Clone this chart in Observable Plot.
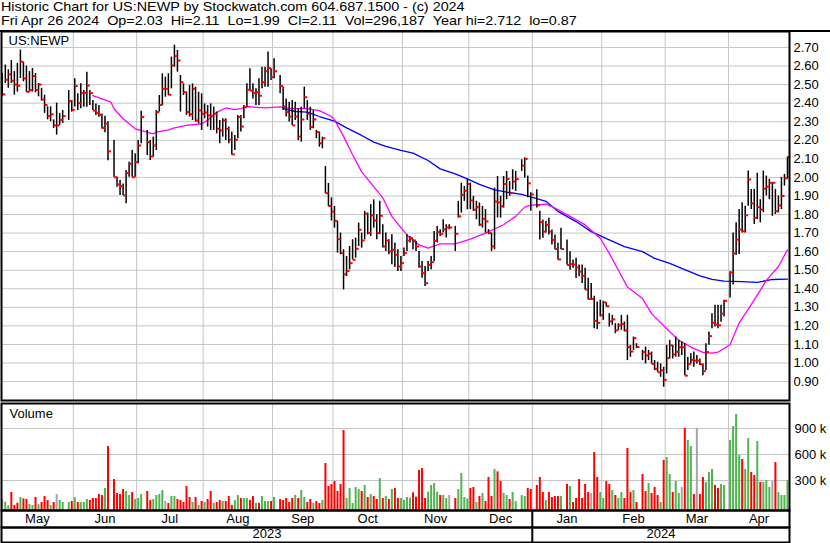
<!DOCTYPE html>
<html>
<head>
<meta charset="utf-8">
<script src="https://cdn.jsdelivr.net/npm/d3@7"></script>
<script src="https://cdn.jsdelivr.net/npm/@observablehq/plot@0.6"></script>
<style>
  html, body { margin: 0; padding: 0; background: #fff; }
  #chart { position: relative; width: 830px; height: 543px; overflow: hidden; background: #fff;
           font-family: "Liberation Sans", Arial, Helvetica, sans-serif; color: #000; }
  .hdr { position: absolute; left: 1px; font-size: 13px; line-height: 13px; white-space: pre;
         transform: scaleX(1.105); transform-origin: 0 0; }
  .rule { position: absolute; left: 0; width: 830px; height: 2px; background: #000; }
  .panel { position: absolute; left: 0; }
  .panel svg { display: block; background: transparent; }
</style>
</head>
<body>
<div id="chart">
  <div class="hdr" id="title" style="top:-0.5px"></div>
  <div class="hdr" id="subtitle" style="top:14px"></div>
  <div class="rule" style="top:30px"></div>
  <div class="panel" id="pricePanel" style="top:30px"></div>
  <div class="panel" id="volPanel" style="top:401px"></div>
  <div class="panel" id="monthPanel" style="top:509px"></div>
  <div class="panel" id="yearPanel" style="top:526px"></div>
</div>
<script>
// ---------------- texts ----------------
const title = "Historic Chart for US:NEWP by Stockwatch.com 604.687.1500 - (c) 2024";
const subtitle = "Fri Apr 26 2024  Op=2.03  Hi=2.11  Lo=1.99  Cl=2.11  Vol=296,187  Year hi=2.712  lo=0.87";
const symbol = "US:NEWP";
const volumeLabel = "Volume";
const monthNames = ["May","Jun","Jul","Aug","Sep","Oct","Nov","Dec","Jan","Feb","Mar","Apr"];
const monthFirsts = ["2023-06-01","2023-07-01","2023-08-01","2023-09-01","2023-10-01","2023-11-01",
                     "2023-12-01","2024-01-01","2024-02-01","2024-03-01","2024-04-01"];
const yearNames = ["2023","2024"];
const yearStart = "2024-01-01";

// ---------------- ticks ----------------
const priceTicks = [0.90,1.00,1.10,1.20,1.30,1.40,1.50,1.60,1.70,1.80,1.90,2.00,2.10,2.20,2.30,2.40,2.50,2.60,2.70];
const volumeTicks = [300000, 600000, 900000];

// ---------------- calendar ----------------
const firstDate = "2023-04-28", lastDate = "2024-04-26";
const holidays = ["2023-05-29","2023-06-19","2023-07-04","2023-09-04","2023-11-23","2023-12-25",
                  "2024-01-01","2024-01-15","2024-02-19","2024-03-29"];

// ---------------- daily bars (one entry per trading day) ----------------
const high = [
  2.56,
  2.605,2.58,2.63,2.57,2.614,2.686,2.62,2.60,2.57,2.587,2.56,2.506,2.48,2.443,2.38,2.38,2.31,2.40,2.345,2.36,2.468,2.414,
  2.531,2.45,2.504,2.468,2.567,2.468,2.414,2.396,2.387,2.342,2.33,2.30,2.199,2.001,1.983,1.965,2.037,2.082,2.145,2.127,2.199,
  2.357,2.253,2.199,2.217,2.36,2.441,2.558,2.54,2.558,2.648,2.712,2.684,2.549,2.504,2.459,2.495,2.504,2.486,2.459,2.45,
  2.396,2.387,2.396,2.379,2.352,2.307,2.316,2.316,2.271,2.244,2.226,2.334,2.334,2.387,2.504,2.585,2.504,2.477,2.531,2.594,2.594,2.675,2.585,
  2.639,2.549,2.486,2.423,2.405,2.414,2.405,2.37,2.378,2.486,2.414,2.378,2.36,2.253,2.244,2.217,2.059,1.967,1.89,1.843,
  1.763,1.70,1.61,1.574,1.628,1.664,1.673,1.754,1.70,1.817,1.808,1.853,1.879,1.799,1.871,1.745,1.70,1.664,1.691,1.646,1.61,1.574,
  1.619,1.691,1.682,1.664,1.655,1.601,1.547,1.52,1.547,1.574,1.709,1.736,1.718,1.772,1.745,1.745,1.736,1.871,1.969,1.951,1.987,
  1.969,1.898,1.871,1.862,1.844,1.826,1.718,1.70,1.942,2.005,1.898,2.005,2.032,1.978,2.041,2.032,2.095,2.105,2.007,1.917,
  1.934,1.817,1.77,1.762,1.78,1.717,1.69,1.645,1.726,1.663,1.60,1.555,1.564,1.528,1.528,1.51,1.456,1.429,1.36,1.329,1.338,
  1.333,1.324,1.266,1.257,1.212,1.212,1.257,1.221,1.257,1.095,1.14,1.104,1.068,1.086,1.068,1.059,1.013,1.004,0.995,0.977,
  1.095,1.122,1.095,1.14,1.122,1.113,1.104,1.031,1.05,1.059,1.04,1.022,0.995,1.104,1.167,1.266,1.311,1.311,1.311,1.338,
  1.491,1.70,1.755,1.827,1.863,1.845,2.034,1.935,1.935,2.022,1.88,2.034,2.007,1.99,1.971,1.935,1.90,2.00,2.016,2.11
];
const low = [
  2.434,
  2.506,2.48,2.506,2.443,2.46,2.533,2.515,2.458,2.46,2.46,2.456,2.434,2.41,2.345,2.31,2.30,2.264,2.228,2.28,2.29,2.307,2.352,
  2.379,2.36,2.37,2.378,2.378,2.387,2.36,2.333,2.324,2.261,2.24,2.09,2.001,1.947,1.903,1.903,1.858,2.001,2.001,2.001,2.073,
  2.181,2.118,2.091,2.109,2.145,2.352,2.387,2.432,2.441,2.477,2.594,2.567,2.352,2.441,2.334,2.325,2.307,2.298,2.289,2.253,
  2.316,2.271,2.253,2.253,2.235,2.181,2.217,2.199,2.181,2.12,2.145,2.208,2.244,2.316,2.378,2.468,2.423,2.387,2.387,2.477,2.486,2.486,2.522,
  2.531,2.45,2.361,2.325,2.298,2.28,2.307,2.199,2.19,2.37,2.307,2.253,2.262,2.208,2.163,2.154,1.912,1.842,1.765,1.727,
  1.592,1.583,1.394,1.466,1.502,1.556,1.565,1.628,1.619,1.664,1.691,1.682,1.727,1.664,1.691,1.619,1.601,1.583,1.529,1.515,1.493,1.493,
  1.574,1.601,1.646,1.61,1.601,1.511,1.457,1.412,1.493,1.502,1.547,1.646,1.682,1.70,1.673,1.718,1.601,1.781,1.808,1.871,1.826,
  1.826,1.817,1.772,1.736,1.727,1.70,1.691,1.601,1.61,1.781,1.781,1.835,1.88,1.898,1.933,1.924,2.032,1.996,1.89,1.818,
  1.835,1.663,1.672,1.70,1.69,1.636,1.61,1.555,1.61,1.528,1.50,1.51,1.455,1.465,1.429,1.392,1.34,1.338,1.185,1.18,1.248,
  1.23,1.302,1.194,1.203,1.158,1.176,1.176,1.167,1.013,1.031,1.068,1.077,1.013,0.995,1.013,0.995,0.959,0.95,0.923,0.87,
  0.941,1.022,1.022,1.031,1.031,1.04,0.932,0.959,0.995,0.977,0.995,0.986,0.932,0.959,1.095,1.185,1.194,1.185,1.22,1.248,
  1.35,1.42,1.58,1.584,1.70,1.70,1.845,1.827,1.746,1.773,1.755,1.81,1.90,1.88,1.79,1.80,1.809,1.827,1.953,1.99
];
const close = [
  2.447,
  2.526,2.555,2.52,2.50,2.494,2.623,2.533,2.461,2.47,2.546,2.47,2.50,2.42,2.39,2.33,2.34,2.28,2.28,2.31,2.33,2.411,2.364,
  2.492,2.40,2.454,2.456,2.495,2.454,2.36,2.348,2.337,2.267,2.29,2.14,2.001,1.962,1.953,1.903,2.023,2.073,2.001,2.082,2.172,
  2.325,2.19,2.113,2.172,2.352,2.39,2.477,2.477,2.445,2.603,2.653,2.63,2.513,2.459,2.352,2.34,2.477,2.307,2.361,2.343,
  2.35,2.334,2.33,2.343,2.262,2.253,2.307,2.262,2.203,2.124,2.203,2.325,2.274,2.378,2.472,2.468,2.454,2.459,2.44,2.513,2.572,2.589,2.54,
  2.572,2.492,2.382,2.352,2.328,2.28,2.328,2.22,2.312,2.432,2.343,2.271,2.312,2.244,2.184,2.211,1.915,1.846,1.815,1.766,
  1.667,1.592,1.478,1.496,1.538,1.556,1.615,1.718,1.66,1.804,1.70,1.795,1.768,1.70,1.793,1.628,1.66,1.601,1.61,1.583,1.52,1.538,
  1.592,1.66,1.673,1.66,1.628,1.52,1.484,1.43,1.529,1.543,1.658,1.705,1.696,1.72,1.73,1.73,1.696,1.79,1.906,1.928,1.964,
  1.876,1.826,1.839,1.745,1.777,1.763,1.70,1.628,1.87,1.865,1.844,1.964,1.991,1.915,1.978,1.991,2.063,2.10,1.968,1.908,
  1.85,1.759,1.708,1.744,1.708,1.663,1.614,1.558,1.614,1.528,1.533,1.531,1.515,1.492,1.47,1.396,1.345,1.345,1.227,1.216,1.257,
  1.327,1.306,1.224,1.235,1.176,1.203,1.21,1.176,1.086,1.062,1.134,1.086,1.059,1.041,1.05,0.995,0.968,0.95,0.96,0.909,
  1.026,1.095,1.046,1.06,1.085,1.085,0.932,0.995,1.017,1.013,1.013,0.993,0.956,1.059,1.145,1.216,1.208,1.203,1.266,1.335,
  1.488,1.59,1.665,1.719,1.71,1.796,1.989,1.86,1.782,1.84,1.827,1.939,1.95,1.971,1.971,1.818,1.849,1.90,1.995,2.11
];
// volume in thousands of shares
const volumeK = [
  81,
  50,8,162,12,38,104,88,81,23,12,104,19,46,115,69,12,46,138,69,46,46,58,
  104,46,46,46,81,69,92,92,138,127,207,692,311,150,138,196,173,127,161,81,92,
  138,173,69,81,127,138,185,58,35,115,115,81,69,46,231,104,46,104,12,58,
  46,81,173,35,46,69,58,58,115,12,69,127,92,92,92,69,115,35,35,115,58,58,58,
  104,81,69,92,46,92,127,92,185,104,46,81,35,58,35,69,496,231,254,288,
  173,254,877,92,208,35,219,196,173,242,104,138,115,81,323,92,115,81,196,208,92,92,
  69,104,96,158,108,415,438,92,165,242,265,165,127,127,92,127,92,196,381,104,88,
  208,219,46,115,150,58,335,115,427,400,288,150,127,81,162,58,127,115,208,196,
  242,335,161,69,161,104,115,115,115,254,231,46,92,311,92,254,161,150,623,335,161,
  92,288,254,185,127,92,161,92,669,161,185,46,369,173,265,150,219,127,46,531,
  565,369,161,288,150,219,900,762,692,138,900,138,335,277,392,427,242,208,254,242,
  762,923,1062,588,542,427,785,392,358,750,277,277,300,219,288,508,161,127,127,296
];

// ---------------- moving averages (weekday index from 2023-04-28) ----------------
const maFastDay   = [30,33,36,37,40,44,48,50,51,55,57,61,66,68,70,72,74,77,79,81,83,87,92,96,101,105,109,110,113,116,119,123,126,129,133,135,138,141,145,150,155,160,166,170,173,175,180,183,188,193,198,201,204,207,212,215,220,224,228,232,235,237,239,241,244,249,253,257,260];
const maFastValue = [2.441,2.423,2.405,2.37,2.316,2.262,2.244,2.235,2.244,2.256,2.267,2.28,2.289,2.307,2.34,2.358,2.374,2.365,2.37,2.382,2.379,2.375,2.38,2.37,2.37,2.36,2.328,2.311,2.221,2.122,2.03,1.95,1.89,1.79,1.709,1.673,1.637,1.619,1.642,1.642,1.667,1.70,1.745,1.79,1.84,1.85,1.856,1.835,1.79,1.744,1.672,1.591,1.50,1.41,1.347,1.266,1.185,1.122,1.086,1.057,1.053,1.059,1.078,1.10,1.215,1.34,1.445,1.52,1.61];
const maSlowDay   = [93,97,101,105,110,114,119,123,127,132,136,141,145,150,154,158,163,167,172,177,180,184,190,195,201,206,212,216,221,225,231,235,239,245,250,255,260];
const maSlowValue = [2.37,2.355,2.352,2.328,2.303,2.267,2.226,2.19,2.167,2.145,2.131,2.091,2.046,2.019,1.992,1.962,1.933,1.921,1.908,1.885,1.871,1.817,1.762,1.708,1.663,1.627,1.60,1.564,1.537,1.51,1.469,1.45,1.441,1.438,1.434,1.45,1.452];

// ---------------- build tables ----------------
const weekdays = [];
for (let t = Date.parse(firstDate + "T00:00:00Z"); t <= Date.parse(lastDate + "T00:00:00Z"); t += 86400000) {
  const d = new Date(t), wd = d.getUTCDay();
  if (wd !== 0 && wd !== 6) weekdays.push(d.toISOString().slice(0, 10));
}
const slotOf = new Map(weekdays.map((d, i) => [d, i]));
const tradingDays = weekdays.filter(d => !holidays.includes(d));
const bars = tradingDays.map((date, k) => ({
  date, slot: slotOf.get(date),
  high: high[k], low: low[k], close: close[k], vol: volumeK[k] * 1000,
  dir: k === 0 ? 0 : Math.sign(close[k] - close[k - 1])
})).filter(d => d.high !== undefined);
const maFast = maFastDay.map((day, i) => ({day, value: maFastValue[i]}));
const maSlow = maSlowDay.map((day, i) => ({day, value: maSlowValue[i]}));

const xDomain = [-0.26, weekdays.length - 1 + 0.67];
const lastSlotOnOrBefore = f => { let i = -1; weekdays.forEach((d, k) => { if (d <= f) i = k; }); return i; };
const monthBounds = monthFirsts.map(f => lastSlotOnOrBefore(f) - 0.5);
const edges = [xDomain[0], ...monthBounds, xDomain[1]];
const monthLabels = monthNames.map((name, i) => ({name, mid: (edges[i] + edges[i + 1]) / 2}));
const yearBound = lastSlotOnOrBefore(yearStart) - 0.5;
const yearEdges = [xDomain[0], yearBound, xDomain[1]];
const yearLabels = yearNames.map((name, i) => ({name, mid: (yearEdges[i] + yearEdges[i + 1]) / 2}));

const FONT = '"Liberation Sans", Arial, Helvetica, sans-serif';
const GRID = "#c4c4c4";
const dirColor = {"1": "#50b450", "-1": "#ff0000", "0": "#a6a6a6"};
const baseStyle = {fontFamily: FONT, fontSize: "13px", color: "#000", background: "transparent", overflow: "visible"};
const W = 830, ML = 1, MR = 41;

document.getElementById("title").textContent = title;
document.getElementById("subtitle").textContent = subtitle;

// ---------------- price panel ----------------
const priceChart = Plot.plot({
  width: W, height: 371, marginLeft: ML, marginRight: MR, marginTop: 1, marginBottom: 1,
  style: baseStyle,
  x: {domain: xDomain, axis: null},
  y: {domain: [0.798, 2.786]},
  marks: [
    Plot.ruleY(priceTicks, {stroke: GRID, strokeWidth: 1}),
    Plot.ruleX(monthBounds, {stroke: GRID, strokeWidth: 1}),
    Plot.axisY(priceTicks, {anchor: "right", tickSize: 0, tickPadding: 4, tickFormat: d => d.toFixed(2), label: null, fill: "#000"}),
    Plot.line(maSlow, {x: "day", y: "value", stroke: "#0000ff", strokeWidth: 1.3}),
    Plot.line(maFast, {x: "day", y: "value", stroke: "#ff00ff", strokeWidth: 1.3}),
    Plot.ruleX(bars, {x: "slot", y1: "low", y2: "high", stroke: "#000", strokeWidth: 1.5}),
    Plot.link(bars, {x1: "slot", x2: d => d.slot + 1, y1: "close", y2: "close", stroke: "#ff0000", strokeWidth: 2}),
    Plot.text([symbol], {text: d => d, frameAnchor: "top-left", textAnchor: "start", lineAnchor: "top", dx: 7, dy: 4, fill: "#000"}),
    Plot.frame({stroke: "#000", strokeWidth: 2})
  ]
});
document.getElementById("pricePanel").append(priceChart);

// ---------------- volume panel ----------------
const vDomain = [-46200, 1188500];
const volChart = Plot.plot({
  width: W, height: 110, marginLeft: ML, marginRight: MR, marginTop: 2, marginBottom: 1,
  style: baseStyle,
  x: {domain: xDomain, axis: null},
  y: {domain: vDomain},
  marks: [
    Plot.ruleY(volumeTicks, {stroke: GRID, strokeWidth: 1}),
    Plot.ruleX(monthBounds, {stroke: GRID, strokeWidth: 1}),
    Plot.axisY(volumeTicks, {anchor: "right", tickSize: 0, tickPadding: 5, tickFormat: d => `${d / 1000} k`, label: null, fill: "#000"}),
    Plot.ruleX(bars, {x: "slot", y1: vDomain[0], y2: "vol", stroke: d => dirColor[String(d.dir)], strokeWidth: 2}),
    Plot.text([volumeLabel], {text: d => d, frameAnchor: "top-left", textAnchor: "start", lineAnchor: "top", dx: 8, dy: 5, fill: "#000"}),
    Plot.frame({stroke: "#000", strokeWidth: 2})
  ]
});
document.getElementById("volPanel").append(volChart);

// ---------------- month row ----------------
const monthChart = Plot.plot({
  width: W, height: 19, marginLeft: ML, marginRight: MR, marginTop: 1, marginBottom: 1,
  style: baseStyle,
  x: {domain: xDomain, axis: null},
  marks: [
    Plot.ruleX([yearBound], {stroke: "#000", strokeWidth: 2}),
    Plot.text(monthLabels, {x: "mid", text: "name", frameAnchor: "middle", fill: "#000"}),
    Plot.frame({stroke: "#000", strokeWidth: 2})
  ]
});
document.getElementById("monthPanel").append(monthChart);

// ---------------- year row ----------------
const yearChart = Plot.plot({
  width: W, height: 17, marginLeft: ML, marginRight: MR, marginTop: 1, marginBottom: 1,
  style: baseStyle,
  x: {domain: xDomain, axis: null},
  marks: [
    Plot.ruleX([yearBound], {stroke: "#000", strokeWidth: 2}),
    Plot.text(yearLabels, {x: "mid", text: "name", frameAnchor: "middle", dy: -1, fill: "#000"}),
    Plot.frame({stroke: "#000", strokeWidth: 2})
  ]
});
document.getElementById("yearPanel").append(yearChart);
</script>
</body>
</html>
